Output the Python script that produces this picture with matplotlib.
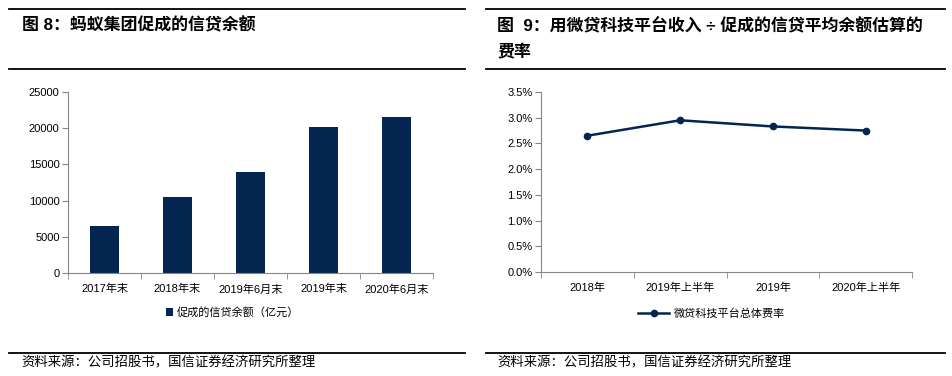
import matplotlib
matplotlib.use("Agg")
import matplotlib.pyplot as plt
from matplotlib.lines import Line2D
from matplotlib.ticker import FuncFormatter

plt.rcParams['font.family'] = ['Liberation Sans', 'Noto Sans CJK SC', 'DejaVu Sans']

# ---- data ----
bar_categories = ["2017年末", "2018年末", "2019年6月末", "2019年末", "2020年6月末"]
bar_values = [6500, 10460, 13950, 20140, 21510]
bar_label = "促成的信贷余额（亿元）"
bar_yticks = [0, 5000, 10000, 15000, 20000, 25000]

line_categories = ["2018年", "2019年上半年", "2019年", "2020年上半年"]
line_values = [0.0265, 0.0295, 0.0283, 0.0275]
line_label = "微贷科技平台总体费率"
line_yticks = [0.0, 0.005, 0.010, 0.015, 0.020, 0.025, 0.030, 0.035]

title_left = "图 8：蚂蚁集团促成的信贷余额"
title_right_1 = "图  9：用微贷科技平台收入 ÷ 促成的信贷平均余额估算的"
title_right_2 = "费率"
source_text = "资料来源：公司招股书，国信证券经济研究所整理"

W, H = 953, 376
fig = plt.figure(figsize=(W / 100, H / 100), dpi=100)

navy = "#03254f"
axis_gray = "#868686"

def fx(px):
    return px / W

def fy(py):
    return 1 - py / H

# frame lines
for x0, x1 in [(9, 465), (486, 945)]:
    for y in [9, 69, 353]:
        fig.add_artist(Line2D([fx(x0), fx(x1)], [fy(y), fy(y)], color="black", lw=1.3))

fig.text(fx(22), fy(25), title_left, fontsize=12.2, fontweight="bold", va="center", ha="left")
fig.text(fx(497), fy(25), title_right_1, fontsize=12.2, fontweight="bold", va="center", ha="left")
fig.text(fx(497), fy(52), title_right_2, fontsize=12.2, fontweight="bold", va="center", ha="left")
fig.text(fx(21), fy(363), source_text, fontsize=9.6, va="center", ha="left")
fig.text(fx(497), fy(363), source_text, fontsize=9.6, va="center", ha="left")

def style_axes(ax):
    for s in ["top", "right"]:
        ax.spines[s].set_visible(False)
    for s in ["left", "bottom"]:
        ax.spines[s].set_color(axis_gray)
        ax.spines[s].set_linewidth(0.8)
    ax.tick_params(axis="y", which="major", length=4, color=axis_gray, labelsize=8, pad=2)
    ax.tick_params(axis="x", which="major", length=0, labelsize=8, pad=8)
    ax.tick_params(axis="x", which="minor", length=4, color=axis_gray)

# ---- left: bars ----
axL = fig.add_axes([fx(68), fy(273), fx(433) - fx(68), fy(92) - fy(273)])
xs = list(range(len(bar_categories)))
axL.bar(xs, bar_values, width=0.4, color=navy, label=bar_label)
axL.set_xlim(-0.5, len(bar_categories) - 0.5)
axL.set_ylim(0, 25000)
axL.set_yticks(bar_yticks)
axL.set_xticks(xs)
axL.set_xticklabels(bar_categories)
axL.set_xticks([i - 0.5 for i in range(len(bar_categories) + 1)], minor=True)
style_axes(axL)
axL.legend(loc="center", bbox_to_anchor=(0.45, -0.22), frameon=False, fontsize=8,
           handlelength=0.7, handleheight=0.7, handletextpad=0.3)

# ---- right: line ----
axR = fig.add_axes([fx(541), fy(272), fx(912) - fx(541), fy(92) - fy(272)])
xs2 = list(range(len(line_categories)))
axR.plot(xs2, line_values, color=navy, lw=1.8, marker="o", markersize=4.5, label=line_label)
axR.set_xlim(-0.5, len(line_categories) - 0.5)
axR.set_ylim(0, 0.035)
axR.set_yticks(line_yticks)
axR.yaxis.set_major_formatter(FuncFormatter(lambda v, p: f"{v*100:.1f}%"))
axR.set_xticks(xs2)
axR.set_xticklabels(line_categories)
axR.set_xticks([i - 0.5 for i in range(len(line_categories) + 1)], minor=True)
style_axes(axR)
axR.legend(loc="center", bbox_to_anchor=(0.46, -0.23), frameon=False, fontsize=8,
           handlelength=2.8, handletextpad=0.4)

fig.savefig("out.png", dpi=100)
